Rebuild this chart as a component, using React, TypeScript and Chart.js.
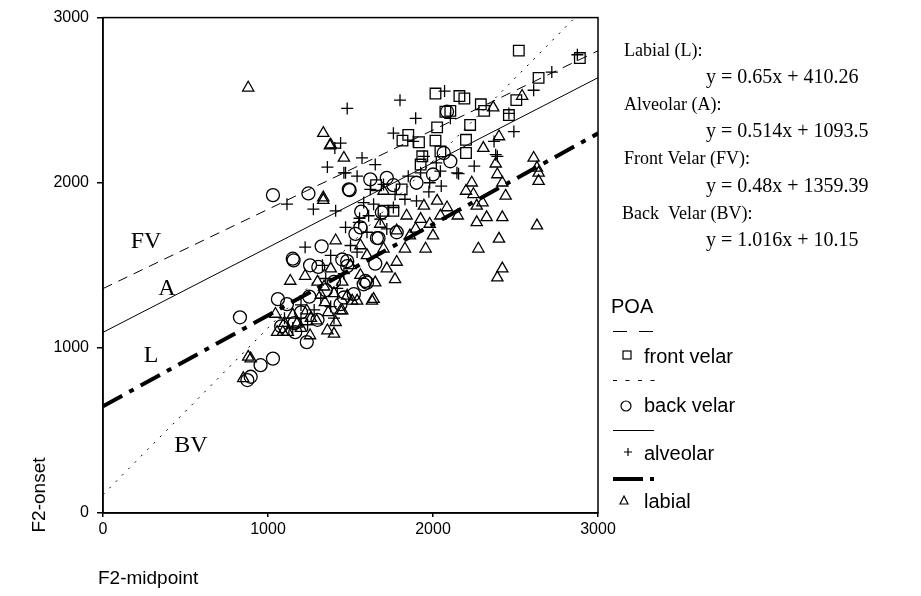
import React, { useEffect, useRef } from 'react';
import { Chart, registerables } from 'chart.js';

Chart.register(...registerables);

// ---------- data (F2-midpoint, F2-onset) ----------
const frontVelar: [number, number][] = [
  [2520, 2800], [2890, 2755], [2640, 2635], [2015, 2540], [2160, 2525], [2190, 2510],
  [2290, 2475], [2310, 2435], [2505, 2500], [2460, 2410], [2105, 2435], [2075, 2430],
  [2225, 2350], [2025, 2335], [1850, 2290], [1815, 2255], [1915, 2245], [2015, 2255],
  [2200, 2260], [2200, 2180], [1935, 2160], [1925, 2110], [2045, 2190], [1700, 1830],
  [1810, 1960], [1655, 1985], [1760, 1830],
];

const backVelar: [number, number][] = [
  [1030, 1925], [1245, 1935], [1495, 1955], [1565, 1825], [1560, 1730], [1325, 1615],
  [1150, 1540], [1305, 1490], [1530, 1690], [1660, 1665], [1600, 1395], [1450, 1535],
  [830, 1185], [1060, 1295], [1115, 1265], [1235, 1035], [1030, 935], [955, 895],
  [895, 825], [875, 805], [1165, 1095], [1520, 1325], [1580, 1385], [1155, 1530],
  [1255, 1500], [1480, 1525], [1460, 1305], [2085, 2430], [1490, 1960], [2065, 2180],
  [2105, 2130], [1690, 1820], [1670, 1665], [1590, 1405], [1480, 1495], [1780, 1700],
  [1400, 1400], [1350, 1350], [1200, 1215], [1160, 1150], [1650, 1510], [2000, 2050],
  [1900, 2000], [1620, 2020], [1720, 2030], [1760, 1985], [1250, 1310], [1300, 1170],
  [1440, 1265], [1080, 1130],
];

const alveolar: [number, number][] = [
  [1480, 2450], [1440, 2240], [1405, 2210], [1360, 2095], [1470, 2060], [1800, 2500],
  [2070, 2555], [1895, 2390], [1760, 2300], [2720, 2670], [2875, 2775], [2610, 2560],
  [2490, 2310], [2370, 2250], [2390, 2160], [1650, 2110], [2460, 2420], [2105, 2390],
  [1880, 2250], [1570, 2150], [2145, 2060], [1115, 1870], [1275, 1840], [1410, 1830],
  [1460, 2060], [1540, 2040], [1225, 1610], [1470, 1730], [2155, 2055], [1975, 1945],
  [1770, 1930], [1760, 1850], [1945, 2160], [1925, 2060], [2045, 2070], [2380, 2170],
  [1580, 1880], [1620, 1960], [1700, 1990], [1850, 2040], [1900, 1890], [1980, 2000],
  [2050, 1980], [1550, 1760], [1600, 1700], [1350, 1420], [1420, 1360], [1320, 1300],
  [1280, 1230], [1200, 1180], [1150, 1120], [1400, 1180], [1460, 1450], [1500, 1620],
  [1540, 1580], [1680, 1780], [1720, 1720], [1830, 1900], [2020, 2120], [1200, 1260],
  [1100, 1180], [1240, 1140], [1380, 1250], [1640, 1870], [1330, 1500], [1380, 1560],
  [1610, 1800], [2250, 2100], [1555, 1785],
];

const labial: [number, number][] = [
  [880, 2575], [1335, 2300], [1375, 2225], [1460, 2150], [1335, 1910], [1380, 2230],
  [1335, 1895], [1135, 1405], [1225, 1435], [1410, 1650], [880, 945], [2540, 2525],
  [2365, 2455], [2400, 2280], [2305, 2210], [2235, 2000], [2380, 2115], [2390, 2050],
  [2420, 2000], [2245, 1930], [2610, 2150], [2630, 2090], [2640, 2010], [2440, 1920],
  [2265, 1860], [2325, 1790], [2420, 1790], [2265, 1760], [2630, 1740], [2400, 1660],
  [2275, 1600], [2420, 1480], [2390, 1425], [2640, 2060], [2025, 1890], [2085, 1850],
  [2045, 1800], [1945, 1860], [1925, 1780], [1840, 1800], [1895, 1720], [1780, 1710],
  [1955, 1600], [1780, 1520], [1650, 1395], [1770, 1415], [1640, 1295], [1510, 1285],
  [1450, 1225], [1045, 1205], [1055, 1095], [1090, 1095], [1120, 1095], [1175, 1145],
  [1200, 1120], [1255, 1075], [1235, 1225], [1295, 1165], [1360, 1105], [1400, 1085],
  [1410, 1155], [1365, 1215], [1345, 1275], [1440, 1225], [1480, 1315], [1540, 1285],
  [1630, 1285], [895, 935], [850, 815], [1300, 1400], [1380, 1480], [1560, 1440],
  [1600, 1560], [1700, 1600], [1720, 1480], [1680, 1750], [1500, 1500], [1400, 1330],
  [1320, 1320], [1860, 1680], [1980, 1750], [2000, 1680], [1830, 1600], [2150, 1800],
  [2300, 1880], [2200, 1950], [1560, 1620], [1700, 1950], [1150, 1200], [1100, 1150],
  [1260, 1180], [1340, 1370], [1450, 1400],
];

// regression lines as drawn: FV, A, L, BV
const lineNames = ['FV', 'A', 'L', 'BV'];
const lineSlopes = [0.48, 0.514, 0.551, 1.01];
const lineIntercepts = [1359, 1094, 646, 111];
const lineXStart = [0, 0, 0, 0];
const lineXEnd = [3000, 3000, 3000, 2860];

const xTicks = [0, 1000, 2000, 3000];
const yTicks = [0, 1000, 2000, 3000];

const equationLabels = [
  'Labial (L):', 'y = 0.65x + 410.26',
  'Alveolar (A):', 'y = 0.514x + 1093.5',
  'Front Velar (FV):', 'y = 0.48x + 1359.39',
  'Back  Velar (BV):', 'y = 1.016x + 10.15',
];
const legendTitle = 'POA';
const legendLabels = ['front velar', 'back velar', 'alveolar', 'labial'];

const SANS = '"Liberation Sans", Arial, sans-serif';
const SERIF = '"Liberation Serif", "Times New Roman", serif';

export default function App() {
  const ref = useRef<HTMLCanvasElement>(null);

  useEffect(() => {
    const canvas = ref.current!;
    const pts = (a: [number, number][]) => a.map(([x, y]) => ({ x, y }));
    const lineData = (i: number) => [
      { x: lineXStart[i], y: lineSlopes[i] * lineXStart[i] + lineIntercepts[i] },
      { x: lineXEnd[i], y: lineSlopes[i] * lineXEnd[i] + lineIntercepts[i] },
    ];
    const lineStyles = [
      { borderDash: [10, 7], borderWidth: 1 },
      { borderDash: [], borderWidth: 1 },
      { borderDash: [22, 8, 5, 8], borderWidth: 4 },
      { borderDash: [2, 7], borderWidth: 1 },
    ];

    const annot = {
      id: 'annot',
      afterDraw(chart: any) {
        const ctx = chart.ctx as CanvasRenderingContext2D;
        const ca = chart.chartArea;
        ctx.save();
        ctx.strokeStyle = '#000';
        ctx.lineWidth = 1.5;
        ctx.setLineDash([]);
        ctx.strokeRect(ca.left, ca.top, ca.right - ca.left, ca.bottom - ca.top);

        ctx.fillStyle = '#000';
        ctx.font = `24px ${SERIF}`;
        ctx.textAlign = 'center';
        ctx.textBaseline = 'alphabetic';
        const lblPos = [[146, 248], [167, 295], [151, 362], [191, 452]];
        lineNames.forEach((n, i) => ctx.fillText(n, lblPos[i][0], lblPos[i][1]));

        ctx.textAlign = 'left';
        const eqY = [56, 83, 110, 137, 164, 192, 219, 246];
        equationLabels.forEach((t, i) => {
          const isEq = i % 2 === 1;
          ctx.font = isEq ? `20px ${SERIF}` : `18px ${SERIF}`;
          const x = isEq ? 706 : (i === 6 ? 622 : 624);
          ctx.fillText(t, x, eqY[i]);
        });

        ctx.font = `20px ${SANS}`;
        ctx.fillText(legendTitle, 611, 313);
        const txtY = [363, 412, 460, 508];
        legendLabels.forEach((t, i) => ctx.fillText(t, 644, txtY[i]));

        ctx.strokeStyle = '#000';
        ctx.lineWidth = 1;
        ctx.setLineDash([14, 12]);
        ctx.beginPath(); ctx.moveTo(613, 331.5); ctx.lineTo(654, 331.5); ctx.stroke();
        ctx.setLineDash([4, 8.5]);
        ctx.beginPath(); ctx.moveTo(613, 380.5); ctx.lineTo(655, 380.5); ctx.stroke();
        ctx.setLineDash([]);
        ctx.beginPath(); ctx.moveTo(613, 430.5); ctx.lineTo(654, 430.5); ctx.stroke();
        ctx.lineWidth = 4;
        ctx.setLineDash([30, 7, 4, 10]);
        ctx.beginPath(); ctx.moveTo(613, 479); ctx.lineTo(654, 479); ctx.stroke();
        ctx.setLineDash([]);

        ctx.lineWidth = 1.2;
        ctx.strokeRect(623, 351, 8, 8);
        ctx.beginPath(); ctx.arc(626, 406, 5, 0, Math.PI * 2); ctx.stroke();
        ctx.beginPath(); ctx.moveTo(624, 452); ctx.lineTo(632, 452); ctx.moveTo(628, 448); ctx.lineTo(628, 456); ctx.stroke();
        ctx.beginPath(); ctx.moveTo(624, 496); ctx.lineTo(628, 504); ctx.lineTo(620, 504); ctx.closePath(); ctx.stroke();

        ctx.font = `19px ${SANS}`;
        ctx.textAlign = 'left';
        ctx.textBaseline = 'middle';
        ctx.fillText('F2-midpoint', 98, 579);
        ctx.save();
        ctx.translate(40, 495);
        ctx.rotate(-Math.PI / 2);
        ctx.textAlign = 'center';
        ctx.fillText('F2-onset', 0, 0);
        ctx.restore();
        ctx.restore();
      },
    };

    const markerCommon = {
      borderColor: '#000',
      backgroundColor: 'rgba(0,0,0,0)',
      borderWidth: 1.3,
      showLine: false,
    };

    const chart = new Chart(canvas, {
      type: 'scatter',
      data: {
        datasets: [
          ...lineNames.map((n, i) => ({
            type: 'line' as const,
            label: n,
            data: lineData(i),
            borderColor: '#000',
            borderWidth: lineStyles[i].borderWidth,
            borderDash: lineStyles[i].borderDash,
            borderCapStyle: 'butt' as const,
            pointRadius: 0,
            fill: false,
            showLine: true,
          })),
          { label: 'front velar', data: pts(frontVelar), pointStyle: 'rect', pointRadius: 7.5, ...markerCommon },
          { label: 'back velar', data: pts(backVelar), pointStyle: 'circle', pointRadius: 6.5, ...markerCommon },
          { label: 'alveolar', data: pts(alveolar), pointStyle: 'cross', pointRadius: 6, ...markerCommon },
          { label: 'labial', data: pts(labial), pointStyle: 'triangle', pointRadius: 6.5, ...markerCommon },
        ] as any,
      },
      options: {
        responsive: false,
        animation: false,
        events: [],
        plugins: { legend: { display: false }, tooltip: { enabled: false } },
        layout: { padding: { left: 0, top: 16, right: 323, bottom: 0 } },
        scales: {
          x: {
            type: 'linear',
            min: 0,
            max: 3000,
            afterBuildTicks: (s: any) => { s.ticks = xTicks.map((v) => ({ value: v })); },
            ticks: { color: '#000', font: { family: SANS, size: 16 }, padding: 3, maxRotation: 0, autoSkip: false, callback: (v: any) => String(v) },
            grid: { drawOnChartArea: false, drawTicks: true, tickLength: 4, color: '#000', lineWidth: 1.5 },
            border: { display: true, color: '#000', width: 1.5 },
            afterFit: (s: any) => { s.height = 83; },
          },
          y: {
            type: 'linear',
            min: 0,
            max: 3000,
            afterBuildTicks: (s: any) => { s.ticks = yTicks.map((v) => ({ value: v })); },
            ticks: { color: '#000', font: { family: SANS, size: 16 }, padding: 8, autoSkip: false, callback: (v: any) => String(v) },
            grid: { drawOnChartArea: false, drawTicks: true, tickLength: 6, color: '#000', lineWidth: 1.5 },
            border: { display: true, color: '#000', width: 1.5 },
            afterFit: (s: any) => { s.width = 103; },
          },
        },
      } as any,
      plugins: [annot],
    });
    return () => chart.destroy();
  }, []);

  return (
    <div style={{ position: 'fixed', left: 0, top: 0, width: 921, height: 596, background: '#fff', overflow: 'hidden' }}>
      <canvas ref={ref} width={921} height={596} style={{ width: 921, height: 596, display: 'block' }} />
    </div>
  );
}
